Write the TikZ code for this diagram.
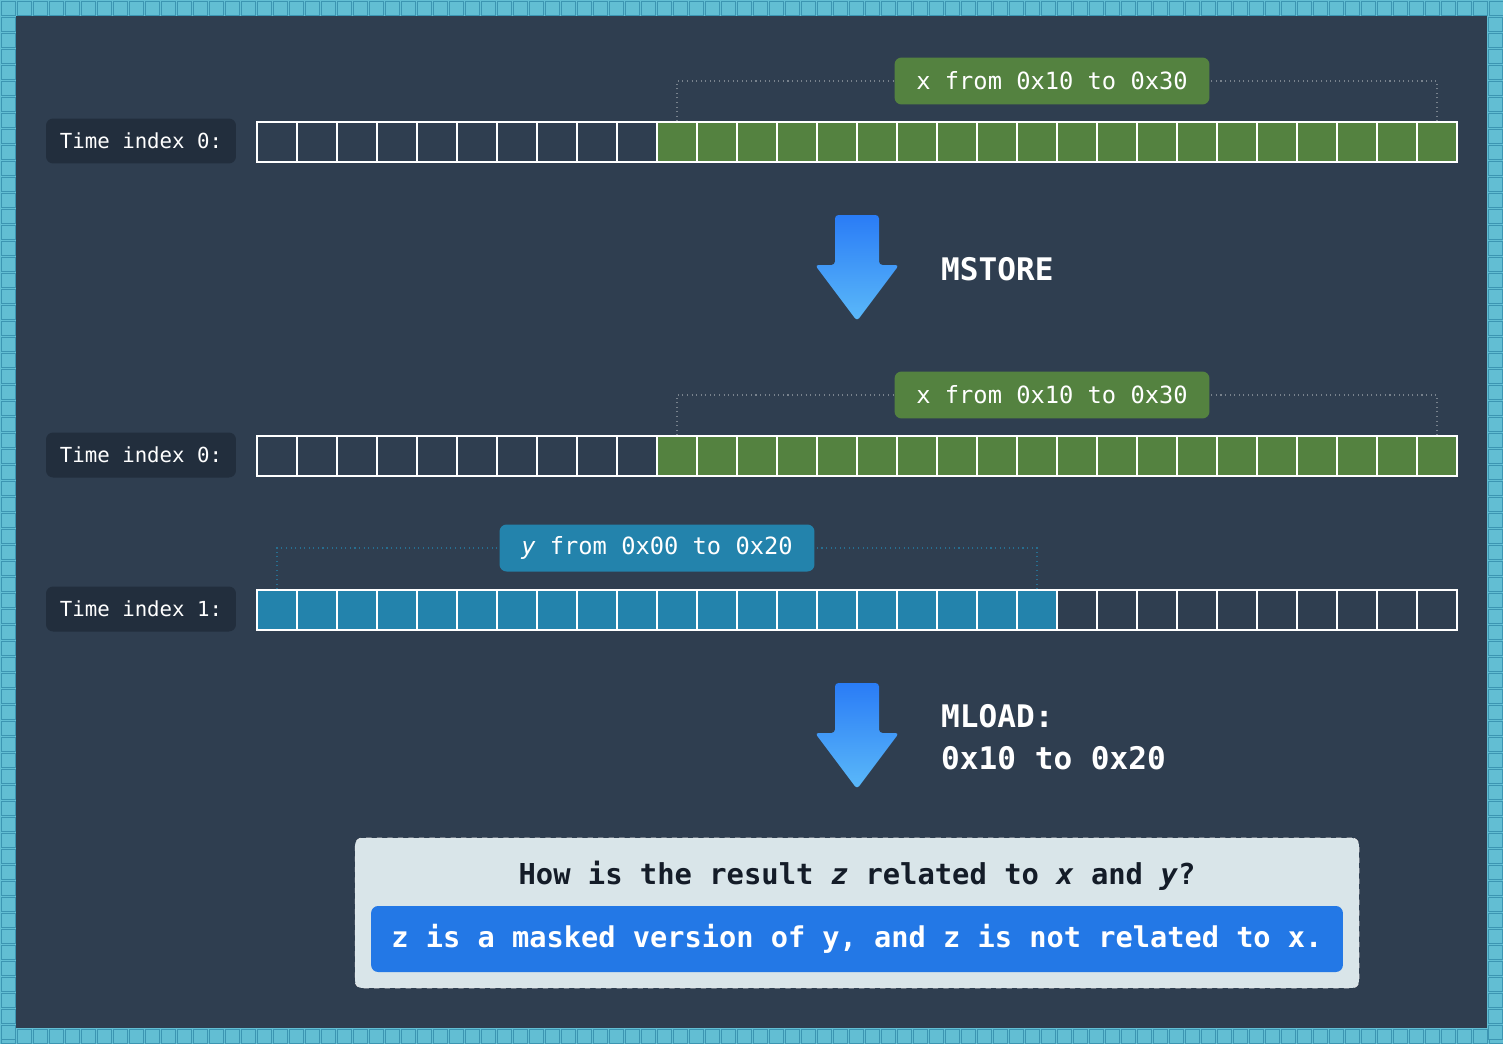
\documentclass[tikz,border=0pt]{standalone}
\usepackage{fontspec}
\setmonofont{DejaVu Sans Mono}
\usetikzlibrary{positioning}
\definecolor{bgdark}{HTML}{2F3E50}
\definecolor{tilefill}{HTML}{62BED3}
\definecolor{tileedge}{HTML}{3C95B2}
\definecolor{labdark}{HTML}{222E3D}
\definecolor{xgreen}{HTML}{548240}
\definecolor{yblue}{HTML}{2383AC}
\definecolor{arrtop}{HTML}{2A7CF6}
\definecolor{arrbot}{HTML}{5BB9F9}
\definecolor{qpanel}{HTML}{D9E5E9}
\definecolor{ansblue}{HTML}{2378E6}
\definecolor{qtext}{HTML}{141C28}

\begin{document}
\begin{tikzpicture}[x=0.02cm,y=-0.02cm,
    cell/.style={draw=white,line width=0.8pt,minimum size=0.8cm,inner sep=0pt},
    timelab/.style={fill=labdark,rounded corners=4pt,minimum width=3.8cm,minimum height=0.9cm,
      text=white,font=\ttfamily\fontsize{11.8}{14}\selectfont},
    varlab/.style={rounded corners=4pt,minimum width=6.3cm,minimum height=0.94cm,
      text=white,font=\ttfamily\fontsize{13.5}{16}\selectfont},
    bracket/.style={dotted,draw=#1,line width=0.6pt},
    optext/.style={text=white,anchor=west,align=left,
      font=\ttfamily\bfseries\fontsize{17.7}{24}\selectfont},
    pics/downarr/.style={code={
      \shade[top color=arrtop,bottom color=arrbot,rounded corners=2pt]
        (-22,0) -- (22,0) -- (22,50) -- (42,50) -- (0,106) -- (-42,50) -- (-22,50) -- cycle;}}]
  \useasboundingbox (0,0) rectangle (1503,1044);
  % tiled frame
  \fill[tilefill] (0,0) rectangle (1503,1044);
  \foreach \i in {0,...,93} {
    \draw[tileedge,fill=tilefill] (\i*16+1,1) rectangle +(14,14);
    \draw[tileedge,fill=tilefill] (\i*16+1,1029) rectangle +(14,14);
  }
  \foreach \j in {1,...,64} {
    \draw[tileedge,fill=tilefill] (1,\j*16+1) rectangle +(14,14);
    \draw[tileedge,fill=tilefill] (1488,\j*16+1) rectangle +(14,14);
  }
  \fill[bgdark] (16,16) rectangle (1487,1028);

  % time index 0, before MSTORE
  \node[timelab] (t0a) at (141,141) {Time index 0:};
  \foreach \i in {0,...,9} \node[cell] (r0c\i) at (277+40*\i,142) {};
  \foreach \i in {10,...,29} \node[cell,fill=xgreen] (r0c\i) at (277+40*\i,142) {};
  \node[varlab,fill=xgreen] (xlab0) at (1052,81) {x from 0x10 to 0x30};
  \draw[bracket=white!35!bgdark] (r0c10.north) |- (xlab0.west);
  \draw[bracket=white!35!bgdark] (r0c29.north) |- (xlab0.east);

  \pic at (857,215) {downarr};
  \node[optext] (mstore) at (935,269) {MSTORE};

  % time index 0, after MSTORE
  \node[timelab] (t0b) at (141,455) {Time index 0:};
  \foreach \i in {0,...,9} \node[cell] (r1c\i) at (277+40*\i,456) {};
  \foreach \i in {10,...,29} \node[cell,fill=xgreen] (r1c\i) at (277+40*\i,456) {};
  \node[varlab,fill=xgreen] (xlab1) at (1052,395) {x from 0x10 to 0x30};
  \draw[bracket=white!35!bgdark] (r1c10.north) |- (xlab1.west);
  \draw[bracket=white!35!bgdark] (r1c29.north) |- (xlab1.east);

  % time index 1
  \node[timelab] (t1) at (141,609) {Time index 1:};
  \foreach \i in {0,...,19} \node[cell,fill=yblue] (r2c\i) at (277+40*\i,610) {};
  \foreach \i in {20,...,29} \node[cell] (r2c\i) at (277+40*\i,610) {};
  \node[varlab,fill=yblue] (ylab) at (657,548) {\textit{y} from 0x00 to 0x20};
  \draw[bracket=yblue!70!bgdark] (r2c0.north) |- (ylab.west);
  \draw[bracket=yblue!70!bgdark] (r2c19.north) |- (ylab.east);

  \pic at (857,683) {downarr};
  \node[optext] (mload) at (935,737) {MLOAD:\\0x10 to 0x20};

  % question and answer
  \node[fill=qpanel,draw=white!85!gray,dashed,rounded corners=4pt,
    minimum width=20.08cm,minimum height=3cm] (panel) at (857,913) {};
  \node[text=qtext,font=\ttfamily\bfseries\fontsize{16.4}{20}\selectfont] (quest) at (857,876)
    {How is the result \textit{z} related to \textit{x} and \textit{y}?};
  \node[fill=ansblue,rounded corners=4pt,minimum width=19.44cm,minimum height=1.32cm,
    text=white,font=\ttfamily\bfseries\fontsize{16.3}{20}\selectfont] (answer) at (857,939)
    {z is a masked version of y, and z is not related to x.};
\end{tikzpicture}
\end{document}
